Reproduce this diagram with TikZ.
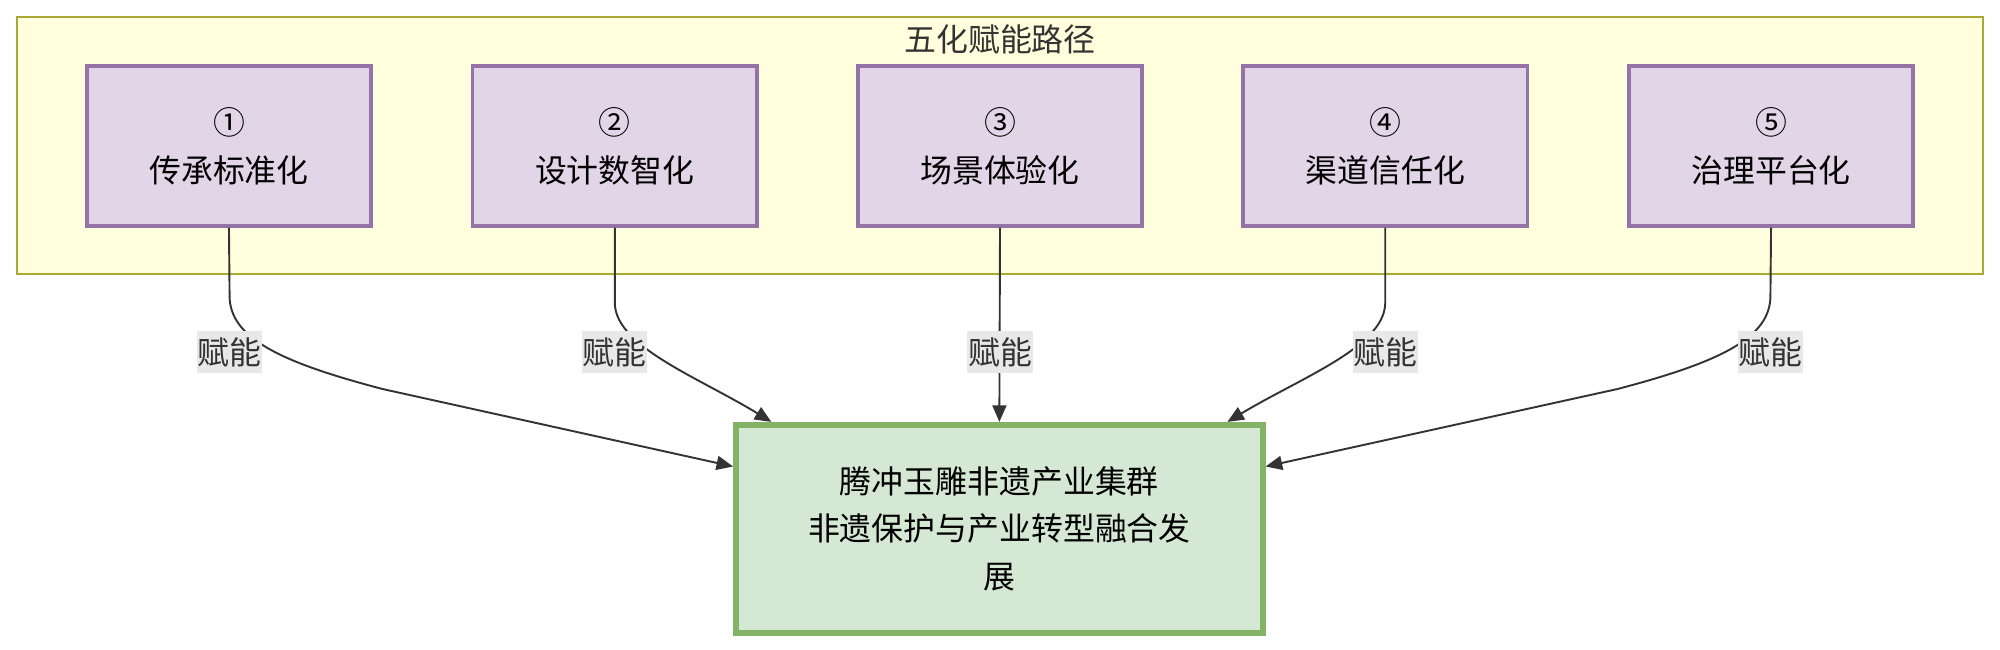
\documentclass[tikz,border=0pt]{standalone}
\usepackage{fontspec}
\newfontfamily\cjk{Noto Sans CJK SC}
\usetikzlibrary{arrows.meta}
\definecolor{clfill}{HTML}{FFFFDE}
\definecolor{cldraw}{HTML}{AAAA33}
\definecolor{pfill}{HTML}{E1D5E7}
\definecolor{pdraw}{HTML}{9673A6}
\definecolor{gfill}{HTML}{D5E8D4}
\definecolor{gdraw}{HTML}{82B366}
\definecolor{lblbg}{HTML}{E8E8E8}
\definecolor{ink}{HTML}{333333}
\tikzset{
  txt/.style={font=\cjk\fontsize{25}{37.5}\selectfont, align=center},
  pathbox/.style={txt, draw=pdraw, fill=pfill, line width=3pt, minimum width=223pt, minimum height=125pt, inner sep=0pt, text=black},
  goalbox/.style={txt, draw=gdraw, fill=gfill, line width=4.5pt, minimum width=413pt, minimum height=163pt, inner sep=0pt, text=black},
  clusterbox/.style={draw=cldraw, fill=clfill, line width=1.5pt, minimum width=1542pt, minimum height=202pt, inner sep=0pt},
  lbl/.style={txt, fill=lblbg, text=ink, inner xsep=0.5pt, inner ysep=5pt},
  edge/.style={draw=ink, line width=1.5pt, -{Triangle[length=13pt,width=11pt]}}
}
\begin{document}
\begin{tikzpicture}[x=1pt,y=-1pt]
\useasboundingbox (0,0) rectangle (1568,509);
\node[clusterbox] (cl) at (784,114) {};
\node[txt, text=ink] (title) at (784,31) {五化赋能路径};
\node[pathbox] (b1) at (179.5,114.5) {①\\传承标准化};
\node[pathbox] (b2) at (482,114.5) {②\\设计数智化};
\node[pathbox] (b3) at (784,114.5) {③\\场景体验化};
\node[pathbox] (b4) at (1086,114.5) {④\\渠道信任化};
\node[pathbox] (b5) at (1388.5,114.5) {⑤\\治理平台化};
\node[goalbox] (g) at (783.5,414.5) {腾冲玉雕非遗产业集群\\非遗保护与产业转型融合发\\展};
\coordinate (e1) at ([yshift=-35pt]g.north west);
\coordinate (e2) at ([xshift=30pt]g.north west);
\coordinate (e4) at ([xshift=-30pt]g.north east);
\coordinate (e5) at ([yshift=-35pt]g.north east);
\draw[edge] (b1.south) -- (180,232) .. controls (180,265) and (220,284) .. (300,305) -- (e1);
\draw[edge] (b2.south) -- (482,238) .. controls (483,272) and (548,296) .. (e2);
\draw[edge] (b3.south) -- (g.north);
\draw[edge] (b4.south) -- (1086,238) .. controls (1085,272) and (1020,296) .. (e4);
\draw[edge] (b5.south) -- (1388,232) .. controls (1388,265) and (1348,284) .. (1268,305) -- (e5);
\node[lbl] (l1) at (180,276) {赋能};
\node[lbl] (l2) at (482,276) {赋能};
\node[lbl] (l3) at (784,276) {赋能};
\node[lbl] (l4) at (1086,276) {赋能};
\node[lbl] (l5) at (1388,276) {赋能};
\end{tikzpicture}
\end{document}
